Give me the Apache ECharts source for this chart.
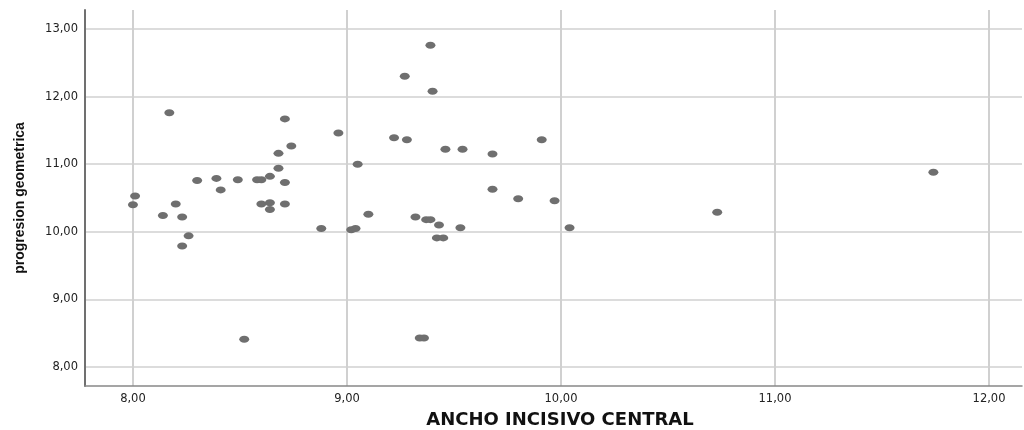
<!DOCTYPE html>
<html>
<head>
<meta charset="utf-8">
<script src="https://cdn.jsdelivr.net/npm/echarts@6/dist/echarts.min.js"></script>
<style>html,body{margin:0;padding:0;background:#fff}#c{width:1024px;height:430px}</style>
</head>
<body>
<div id="c"></div>
<script>
var anchoIncisivo = [8.00, 8.01, 8.14, 8.17, 8.20, 8.23, 8.23, 8.26, 8.30, 8.39, 8.41, 8.49, 8.52, 8.58, 8.60, 8.60,
  8.64, 8.64, 8.64, 8.68, 8.68, 8.71, 8.71, 8.71, 8.74, 8.88, 8.96, 9.02, 9.04, 9.05, 9.10, 9.22, 9.27, 9.28,
  9.32, 9.34, 9.36, 9.37, 9.39, 9.39, 9.40, 9.42, 9.43, 9.45, 9.46, 9.53, 9.54, 9.68, 9.68, 9.80, 9.91, 9.97,
  10.04, 10.73, 11.74];
var progresionGeometrica = [10.40, 10.53, 10.24, 11.76, 10.41, 10.22, 9.79, 9.94, 10.76, 10.79, 10.62, 10.77, 8.41, 10.77, 10.77, 10.41,
  10.82, 10.43, 10.33, 10.94, 11.16, 11.67, 10.73, 10.41, 11.27, 10.05, 11.46, 10.03, 10.05, 11.00, 10.26, 11.39, 12.30, 11.36,
  10.22, 8.43, 8.43, 10.18, 10.18, 12.76, 12.08, 9.91, 10.10, 9.91, 11.22, 10.06, 11.22, 11.15, 10.63, 10.49, 11.36, 10.46,
  10.06, 10.29, 10.88];
var xTicks = [8, 9, 10, 11, 12];
var yTicks = [8, 9, 10, 11, 12, 13];

var points = anchoIncisivo.map(function (x, i) { return [x, progresionGeometrica[i]]; });
function fmt(v) { return v.toFixed(2).replace('.', ','); }

var chart = echarts.init(document.getElementById('c'), null, {renderer: 'canvas'});
chart.setOption({
  animation: false,
  grid: {left: 85, right: 2, top: 10, bottom: 44, containLabel: false, outerBoundsMode: 'none'},
  xAxis: {
    type: 'value', min: 7.776, max: 12.154,
    name: 'ANCHO INCISIVO CENTRAL', nameLocation: 'middle', nameGap: 25,
    nameTextStyle: {fontFamily: 'DejaVu Sans', fontWeight: 'bold', fontSize: 18, color: '#111', padding: [0, 0, 0, 13]},
    axisLine: {show: true, lineStyle: {color: '#888', width: 1.5}},
    axisTick: {show: false, customValues: xTicks},
    axisLabel: {customValues: xTicks, formatter: fmt, color: '#222', fontSize: 11.5, fontFamily: 'DejaVu Sans', margin: 7},
    splitLine: {show: true, lineStyle: {color: '#d0d0d0', width: 2}}
  },
  yAxis: {
    type: 'value', min: 7.72, max: 13.28,
    name: 'progresion geometrica', nameLocation: 'middle', nameGap: 58, nameRotate: 90,
    nameTextStyle: {fontFamily: 'Liberation Sans', fontWeight: 'bold', fontSize: 14, color: '#111'},
    axisLine: {show: true, lineStyle: {color: '#707070', width: 2}},
    axisTick: {show: false, customValues: yTicks},
    axisLabel: {customValues: yTicks, formatter: fmt, color: '#222', fontSize: 11.5, fontFamily: 'DejaVu Sans', margin: 7},
    splitLine: {show: true, lineStyle: {color: '#d0d0d0', width: 1.5}}
  },
  series: [{
    type: 'scatter',
    data: points,
    symbol: 'circle',
    symbolSize: [10, 7],
    itemStyle: {color: '#6f6f6f', opacity: 1}
  }]
});
</script>
</body>
</html>
